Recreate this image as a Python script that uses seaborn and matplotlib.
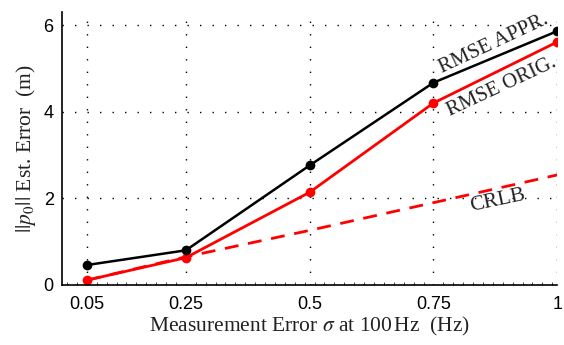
import matplotlib
matplotlib.use("Agg")
import matplotlib.pyplot as plt
import seaborn as sns
import pandas as pd
from matplotlib.ticker import AutoMinorLocator

sigma = [0.05, 0.25, 0.5, 0.75, 1.0]
rmse_appr = [0.46, 0.80, 2.76, 4.67, 5.86]
rmse_orig = [0.11, 0.63, 2.14, 4.20, 5.61]
crlb = [0.11, 0.65, 1.26, 1.90, 2.54]
xtick_labels = ["0.05", "0.25", "0.5", "0.75", "1"]
yticks = [0, 2, 4, 6]

sns.set_style("white")
plt.rcParams['font.family'] = ['Liberation Sans', 'DejaVu Sans']
plt.rcParams['mathtext.fontset'] = 'stix'

df = pd.DataFrame({"sigma": sigma, "appr": rmse_appr, "orig": rmse_orig, "crlb": crlb})

fig = plt.figure(figsize=(5.64, 3.45), dpi=100)
ax = fig.add_axes([0.110, 0.174, 0.878, 0.791])

sns.lineplot(data=df, x="sigma", y="crlb", ax=ax, color="red", lw=2.0,
             linestyle=(0, (5, 3.5)))
sns.lineplot(data=df, x="sigma", y="orig", ax=ax, color="red", lw=2.0,
             marker="o", markersize=7, markeredgewidth=0)
sns.lineplot(data=df, x="sigma", y="appr", ax=ax, color="black", lw=1.8,
             marker="o", markersize=7, markeredgewidth=0)

ax.set_xlim(0, 1)
ax.set_ylim(0, 6.3)
ax.set_xticks(sigma)
ax.set_xticklabels(xtick_labels)
ax.set_yticks(yticks)
ax.xaxis.set_minor_locator(AutoMinorLocator(10))
ax.tick_params(axis='x', which='minor', direction='in', length=2, bottom=True, width=0.6)
ax.tick_params(axis='both', which='major', direction='in', length=4, labelsize=13,
               colors='black', width=0.8)
ax.tick_params(axis='x', pad=8)
ax.tick_params(axis='y', pad=6)

ax.grid(True, which='major', linestyle=(0, (1, 8)), color='black', linewidth=1.0)

for side in ["top", "right"]:
    ax.spines[side].set_visible(False)
for side in ["left", "bottom"]:
    ax.spines[side].set_color("black")
    ax.spines[side].set_linewidth(1.2)

serif = ['Liberation Serif', 'DejaVu Serif']
ax.set_xlabel(r"Measurement Error $\sigma$ at 100$\,$Hz  (Hz)", family=serif, fontsize=15.5,
              color='#222222', labelpad=1)
ax.set_ylabel(r"$||p_0||$ Est. Error  (m)", family=serif, fontsize=15.5, color='#222222',
              labelpad=4)

ax.text(0.872, 5.57, "RMSE APPR.", family=serif, fontsize=15, color='#222222',
        rotation=25, ha='center', va='center')
ax.text(0.887, 4.58, "RMSE ORIG.", family=serif, fontsize=15, color='#222222',
        rotation=25, ha='center', va='center')
ax.text(0.88, 1.95, "CRLB", family=serif, fontsize=15.5, color='#222222',
        rotation=12, ha='center', va='center')

fig.savefig("out.png", dpi=100)
